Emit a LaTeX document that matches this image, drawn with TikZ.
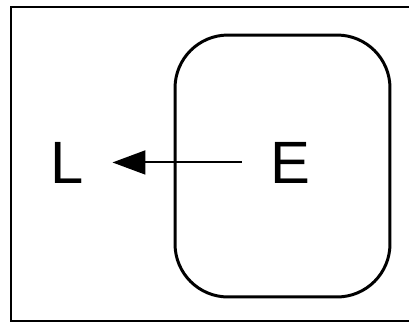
\documentclass[tikz,border=0pt]{standalone}
\usepackage{fontspec}
\setmainfont{Liberation Sans}
\usetikzlibrary{arrows.meta,positioning}

\begin{document}
\begin{tikzpicture}[
x=0.02cm,
y=-0.02cm,
every node/.style={font=\fontsize{34}{36}\selectfont},
letter/.style={inner sep=0pt,anchor=base},
zonebox/.style={rectangle,rounded corners=1.06cm,draw,line width=1.7pt,minimum width=4.3cm,minimum height=5.24cm,inner sep=0pt},
flowarr/.style={-{Triangle[length=6.6mm 0,width=4.8mm 0]},line width=1.1pt,shorten <=0.56cm,shorten >=0.56cm}
]
\useasboundingbox (0,0) rectangle (409,322);
\draw[line width=1.4pt] (11,7) rectangle (412,321);

\node[zonebox] (zone) at (282.5,166) {};
\node[letter] (L) at (67.5,183) {L};
\node[letter] (E) at (290,183) {E};

\draw[flowarr] (E) -- (L);
\end{tikzpicture}
\end{document}
